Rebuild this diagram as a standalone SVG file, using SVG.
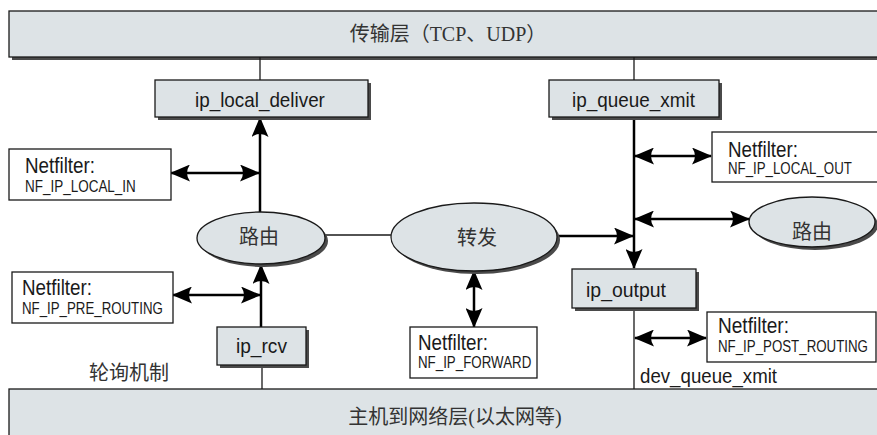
<svg xmlns="http://www.w3.org/2000/svg" width="877" height="435" viewBox="0 0 877 435">
<style>
.fill{fill:#dde3e6;stroke:#1a1a1a;stroke-width:1.3}
.shadow{fill:#4a4a4a;stroke:none}
.nf{fill:#fff;stroke:#1a1a1a;stroke-width:1.3}
.lat{font-family:"Liberation Sans",Arial,sans-serif;fill:#1a1a1a}
.big{font-size:20px}
.nft{font-size:22px}
.nfs{font-size:16px}
.cjk{font-family:"Noto Sans CJK SC",sans-serif;font-size:20px;fill:#333}
.serif{font-family:"Liberation Serif","Noto Sans CJK SC",serif;font-size:20px;fill:#333}
.thin{stroke:#1a1a1a;stroke-width:1.3;fill:none}
.thick{stroke:#000;stroke-width:2.5;fill:none}
</style>
<defs>
<marker id="ah" markerUnits="userSpaceOnUse" markerWidth="20" markerHeight="17" viewBox="0 0 20 17" refX="19" refY="8.5" orient="auto-start-reverse">
<path d="M0,0 L20,8.5 L0,17 Q6,8.5 0,0 Z" fill="#000"/>
</marker>
</defs>
<rect width="877" height="435" fill="#fff"/>

<g id="transport">
<rect class="shadow" x="12" y="14" width="880" height="46"/>
<rect class="fill" x="9" y="11" width="880" height="46"/>
<text class="serif" x="448" y="41" text-anchor="middle">传输层（TCP、UDP）</text>
</g>

<g id="hostnet">
<rect class="fill" x="9" y="389" width="880" height="60"/>
<text class="serif" x="455" y="424" text-anchor="middle" font-size="22">主机到网络层(以太网等)</text>
</g>

<g id="connectors">
<line class="thin" x1="260" y1="57" x2="260" y2="80"/>
<line class="thin" x1="634" y1="57" x2="634" y2="80"/>
<line class="thick" x1="260" y1="212" x2="260" y2="118" marker-end="url(#ah)"/>
<line class="thick" x1="171" y1="173" x2="259" y2="173" marker-start="url(#ah)" marker-end="url(#ah)"/>
<line class="thick" x1="261" y1="327" x2="261" y2="265" marker-end="url(#ah)"/>
<line class="thick" x1="173" y1="295" x2="260" y2="295" marker-start="url(#ah)" marker-end="url(#ah)"/>
<line class="thin" x1="262" y1="365" x2="262" y2="389"/>
<line class="thin" x1="325" y1="235" x2="391" y2="235"/>
<line class="thick" x1="558" y1="236" x2="633" y2="236" marker-end="url(#ah)"/>
<line class="thick" x1="634" y1="117" x2="634" y2="268" marker-end="url(#ah)"/>
<line class="thick" x1="635" y1="156" x2="711" y2="156" marker-start="url(#ah)" marker-end="url(#ah)"/>
<line class="thick" x1="635" y1="219" x2="749" y2="219" marker-start="url(#ah)" marker-end="url(#ah)"/>
<line class="thick" x1="474" y1="271" x2="474" y2="327" marker-start="url(#ah)" marker-end="url(#ah)"/>
<line class="thin" x1="634" y1="308" x2="634" y2="389"/>
<line class="thick" x1="635" y1="338" x2="706" y2="338" marker-start="url(#ah)" marker-end="url(#ah)"/>
</g>

<g id="ip_local_deliver">
<rect class="shadow" x="158" y="83" width="213" height="37"/>
<rect class="fill" x="155" y="80" width="213" height="37"/>
<text class="lat big" transform="translate(195,107) scale(0.943,1)">ip_local_deliver</text>
</g>

<g id="ip_queue_xmit">
<rect class="shadow" x="552" y="83" width="170" height="37"/>
<rect class="fill" x="549" y="80" width="170" height="37"/>
<text class="lat big" transform="translate(572,107) scale(0.946,1)">ip_queue_xmit</text>
</g>

<g id="nf_local_in">
<rect class="nf" x="9" y="149" width="162" height="51"/>
<text class="lat nft" transform="translate(25,173) scale(0.855,1)">Netfilter:</text>
<text class="lat nfs" transform="translate(25,192) scale(0.843,1)">NF_IP_LOCAL_IN</text>
</g>

<g id="nf_local_out">
<rect class="nf" x="712" y="132" width="175" height="50"/>
<text class="lat nft" transform="translate(728,157) scale(0.855,1)">Netfilter:</text>
<text class="lat nfs" transform="translate(728,174) scale(0.83,1)">NF_IP_LOCAL_OUT</text>
</g>

<g id="route_left">
<ellipse class="shadow" cx="264" cy="241" rx="64" ry="26"/>
<ellipse class="fill" cx="261" cy="238" rx="64" ry="26"/>
<text class="cjk" x="259" y="244" text-anchor="middle">路由</text>
</g>

<g id="forward">
<ellipse class="shadow" cx="477" cy="240" rx="83" ry="34"/>
<ellipse class="fill" cx="474" cy="237" rx="83" ry="34"/>
<text class="cjk" x="477" y="245" text-anchor="middle">转发</text>
</g>

<g id="route_right">
<ellipse class="shadow" cx="815" cy="225" rx="63" ry="25"/>
<ellipse class="fill" cx="812" cy="222" rx="63" ry="25"/>
<text class="cjk" x="812" y="239" text-anchor="middle">路由</text>
</g>

<g id="nf_pre_routing">
<rect class="nf" x="12" y="272" width="161" height="51"/>
<text class="lat nft" transform="translate(22,295) scale(0.855,1)">Netfilter:</text>
<text class="lat nfs" transform="translate(22,314) scale(0.83,1)">NF_IP_PRE_ROUTING</text>
</g>

<g id="ip_output">
<rect class="shadow" x="575" y="272" width="124" height="39"/>
<rect class="fill" x="572" y="269" width="124" height="39"/>
<text class="lat big" transform="translate(586,297) scale(0.972,1)">ip_output</text>
</g>

<g id="nf_forward">
<rect class="nf" x="410" y="327" width="127" height="51"/>
<text class="lat nft" transform="translate(418,350) scale(0.855,1)">Netfilter:</text>
<text class="lat nfs" transform="translate(418,368) scale(0.833,1)">NF_IP_FORWARD</text>
</g>

<g id="ip_rcv">
<rect class="shadow" x="220" y="330" width="89" height="38"/>
<rect class="fill" x="217" y="327" width="89" height="38"/>
<text class="lat big" transform="translate(236,353) scale(0.956,1)">ip_rcv</text>
</g>

<g id="nf_post_routing">
<rect class="nf" x="707" y="312" width="169" height="50"/>
<text class="lat nft" transform="translate(718,333) scale(0.867,1)">Netfilter:</text>
<text class="lat nfs" transform="translate(718,352) scale(0.831,1)">NF_IP_POST_ROUTING</text>
</g>

<g id="labels">
<text class="cjk" x="89" y="380" font-size="21">轮询机制</text>
<text class="lat big" transform="translate(640,383) scale(0.934,1)">dev_queue_xmit</text>
</g>
</svg>
